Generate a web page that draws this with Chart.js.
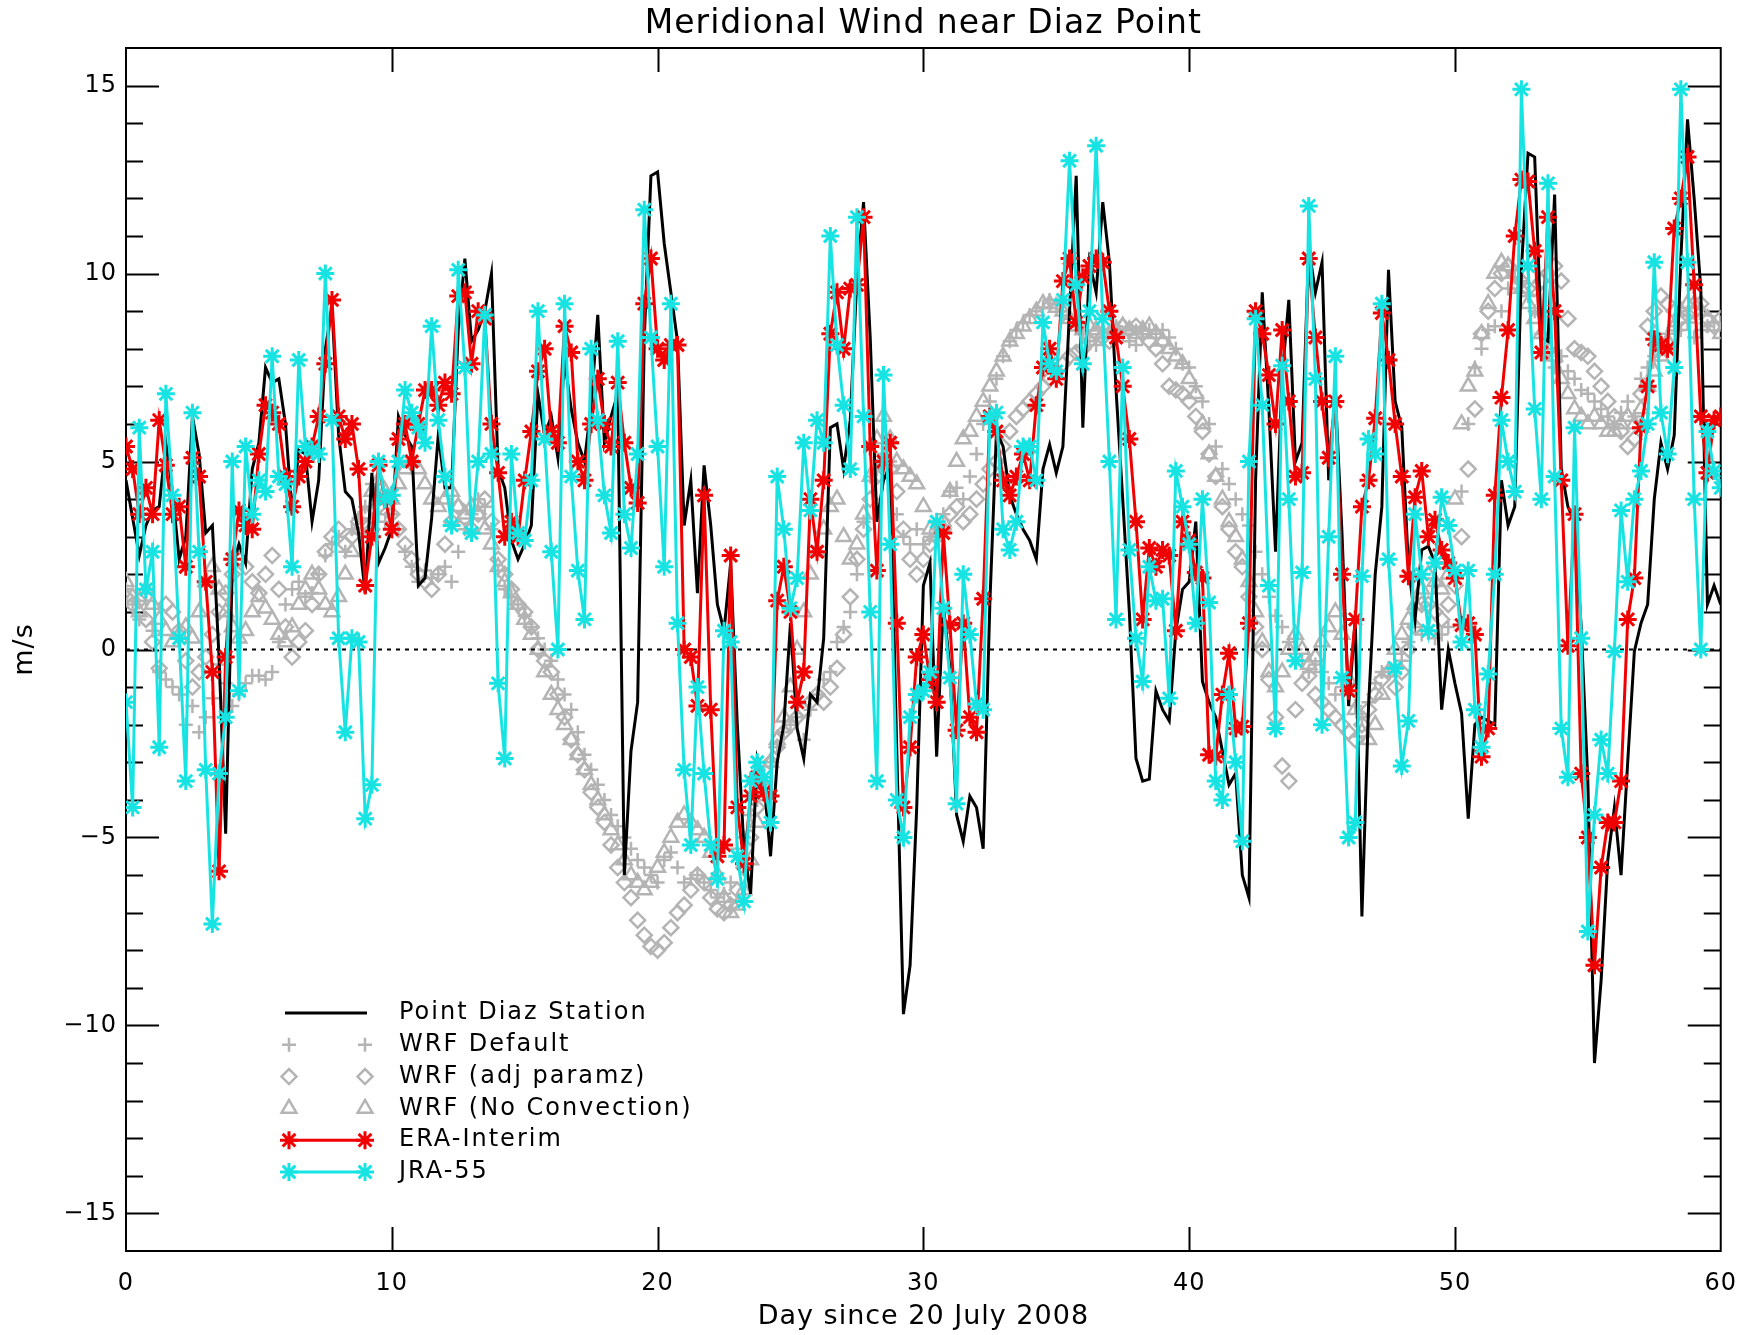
<!DOCTYPE html>
<html>
<head>
<meta charset="utf-8">
<script src="https://cdn.jsdelivr.net/npm/chart.js@4.4.1/dist/chart.umd.min.js"></script>
<style>
  html, body { margin: 0; padding: 0; background: #ffffff; }
  #wrap { width: 1754px; height: 1335px; position: relative; }
</style>
</head>
<body>
<div id="wrap"><canvas id="c" width="1754" height="1335"></canvas></div>
<script>
// ---------------- DATA ----------------
const chartTitle = 'Meridional Wind near Diaz Point';
const xAxisTitle = 'Day since 20 July 2008';
const yAxisTitle = 'm/s';
const xTickValues = [0, 10, 20, 30, 40, 50, 60];
const yTickValues = [-15, -10, -5, 0, 5, 10, 15];
const seriesNames = ['Point Diaz Station', 'WRF Default', 'WRF (adj paramz)', 'WRF (No Convection)', 'ERA-Interim', 'JRA-55'];

// 6-hourly time axis, days since 20 July 2008 (0 .. 60)
const days = Array.from({ length: 241 }, (_, i) => i / 4);

// Point Diaz Station (m/s)
const station = [
  4.5, 3.5, 2.5, 3.3,   3.7, 3.8, 5.5, 4.2,   2.4, 3.0, 6.2, 5.2,   3.1, 3.3, -0.2, -4.9,
  2.2, 2.8, 2.3, 4.8,   5.5, 7.5, 7.1, 7.2,   6.0, 3.6, 5.3, 5.2,   3.4, 4.5, 8.0, 9.1,
  5.7, 4.2, 4.0, 3.1,   1.5, 4.7, 2.3, 2.7,   3.2, 6.2, 5.7, 5.4,   1.7, 1.9, 3.5, 5.7,
  4.3, 4.3, 8.5, 10.4,  8.2, 8.5, 9.0, 10.0,  4.8, 4.3, 2.9, 2.4,   2.8, 3.3, 6.8, 5.7,
  6.2, 5.1, 7.7, 6.4,   5.5, 5.0, 6.5, 8.9,   5.5, 6.2, 6.8, -6.0,  -2.7, -1.4, 8.3, 12.6,
  12.7, 10.8, 9.5, 8.2, 3.3, 4.5, 1.5, 4.9,   3.3, 1.2, 0.5, 2.3,   -2.0, -5.3, -6.5, -2.9,
  -3.5, -5.5, -3.0, -2.0, 0.7, -2.1, -2.9, -1.2, -1.4, 0.3, 5.9, 6.0, 4.8, 6.1, 9.9, 11.9,
  8.3, 3.4, 4.5, 4.9,   -2.7, -9.7, -8.4, -4.2, 1.7, 2.3, -2.85, 1.2, -0.5, -4.4, -5.1, -3.9,
  -4.2, -5.3, 1.2, 5.8, 5.4, 4.1, 3.6, 3.2,   2.9, 2.4, 4.8, 5.45,  4.7, 5.4, 9.0, 12.6,
  5.9, 10.3, 9.5, 11.9, 10.3, 6.9, 4.0, 1.0,  -2.9, -3.5, -3.45, -1.1, -1.6, -1.9, 0.5, 1.6,
  1.8, 3.4, -0.85, -1.4, -1.8, -2.7, -3.6, -3.3, -6.0, -6.6, 4.5, 9.5, 6.4, 2.6, 7.3, 9.3,
  5.0, 5.5, 10.7, 9.5,  10.3, 4.5, 6.8, 3.1,  -1.5, 0.8, -7.1, -1.5, 2.0, 3.8, 10.1, 6.6,
  5.9, 2.2, 0.8, 2.65,  2.75, 2.3, -1.6, 0.0, -0.9, -1.7, -4.5, -2.0, -1.8, -1.9, -2.0, 4.5,
  3.3, 3.8, 10.1, 13.2, 13.1, 8.3, 8.2, 12.1, 4.8, 3.8, 3.4, 0.6,   -3.5, -11.0, -8.8, -5.6,
  -4.2, -6.0, -3.0, -0.05, 0.7, 1.2, 4.0, 5.5, 4.8, 5.7, 10.4, 14.1, 12.0, 9.6, 1.2, 1.7,
  1.2
];

// WRF Default (m/s)
const wrfDefault = [
  1.6, 1.2, 0.8, 1.3,   0.5, -0.6, -0.8, -1.0, -1.2, -2.0, -1.5, -2.2, -1.8, -1.3, -0.4, -0.9,
  -1.5, -1.2, -0.9, -0.7, -0.7, -0.8, -0.6, 0.2, 1.2, 1.6, 1.8, 1.4,  1.5, 2.0, 2.5, 2.8,
  3.0, 2.6, 3.2, 3.5,   3.8, 4.4, 3.6, 3.4,   3.6, 3.2, 2.6, 2.2,   1.8, 2.1, 1.9, 2.0,
  2.2, 1.8, 2.6, 3.2,   3.6, 4.0, 3.8, 3.2,   2.1, 1.6, 1.4, 1.2,   0.9, 0.6, 0.3, 0.0,
  -0.3, -0.8, -1.2, -1.6, -2.2, -2.8, -3.2, -3.6, -4.0, -4.4, -4.7, -5.0, -5.3, -5.6, -5.8, -6.0,
  -6.2, -5.6, -5.4, -5.8, -6.2, -6.1, -6.0, -6.2, -6.4, -6.6, -6.5, -6.2, -5.3, -5.0, -4.4, -4.0,
  -3.6, -3.0, -2.6, -2.2, -2.0, -1.8, -2.4, -1.6, -1.2, -0.8, -0.6, 0.2, 0.6, 1.0, 2.0, 3.4,
  4.6, 4.8, 5.2, 5.0,   3.6, 3.0, 2.8, 3.2,   2.8, 3.0, 3.2, 3.6,   4.2, 4.3, 4.0, 4.6,
  5.2, 6.0, 6.6, 7.2,   7.8, 8.2, 8.5, 8.7,   8.9, 9.0, 9.1, 9.3,   9.2, 9.0, 8.8, 8.6,
  8.4, 8.2, 8.1, 8.3,   8.5, 8.6, 8.4, 8.2,   8.1, 8.3, 8.5, 8.4,   8.5, 8.3, 8.0, 7.6,
  7.5, 7.0, 6.6, 6.0,   5.4, 4.8, 4.4, 4.0,   3.6, 3.3, 2.6, 2.0,   1.4, 0.9, 0.6, 0.2,
  0.0, -0.3, -0.6, -0.4, -0.6, -0.9, -1.2, -1.0, -1.2, -1.5, -1.8, -1.4, -0.9, -0.6, -0.5, -0.6,
  -0.3, 0.2, 0.6, 0.4,  0.5, 0.3, 0.4, 0.6,   2.0, 4.2, 6.0, 7.5,   8.0, 8.5, 8.6, 9.0,
  9.6, 9.9, 9.8, 9.4,   9.0, 8.4, 8.0, 7.5,   7.8, 7.4, 7.2, 6.9,   6.8, 6.6, 6.4, 6.2,
  6.0, 6.3, 6.6, 6.2,   7.2, 7.5, 7.8, 8.2,   8.4, 8.6, 8.5, 8.7,   8.3, 8.5, 8.6, 8.7,
  8.7
];

// WRF (adj paramz) (m/s)
const wrfAdj = [
  1.4, 1.2, 1.3, 0.8,   0.2, -0.5, 1.2, 1.0,  0.5, -0.3, -1.0, -0.6, -0.2, 0.4, 1.0, 1.5,
  2.0, 2.4, 2.2, 1.8,   1.5, 2.0, 2.5, 1.6,   0.6, -0.2, 0.2, 0.5,  1.2, 2.0, 2.6, 3.0,
  3.2, 2.8, 3.0, 3.4,   3.6, 3.2, 3.8, 4.0,   3.6, 3.2, 2.8, 2.4,   2.0, 1.8, 1.6, 2.0,
  2.8, 3.4, 3.8, 3.5,   3.2, 3.6, 4.0, 3.4,   2.4, 2.0, 1.6, 1.2,   1.0, 0.6, 0.0, -0.3,
  -0.6, -1.2, -1.8, -2.4, -2.8, -3.2, -3.8, -4.2, -4.6, -5.2, -5.8, -6.2, -6.6, -7.2, -7.6, -7.9,
  -8.0, -7.8, -7.4, -7.0, -6.8, -6.4, -6.0, -6.2, -6.6, -6.9, -7.0, -6.8, -6.4, -5.8, -5.0, -4.2,
  -3.6, -3.0, -2.6, -2.2, -2.0, -1.8, -1.6, -1.4, -1.2, -1.4, -1.0, -0.5, 0.4, 1.4, 2.4, 3.2,
  4.0, 4.6, 5.0, 4.8,   4.2, 3.2, 2.4, 2.0,   2.4, 2.8, 3.0, 3.2,   3.6, 3.8, 3.4, 3.6,
  4.0, 4.4, 4.8, 5.0,   5.4, 5.8, 6.2, 6.4,   6.6, 6.8, 7.0, 7.2,   7.4, 7.6, 7.8, 7.9,
  8.0, 8.2, 8.4, 8.3,   8.2, 8.4, 8.6, 8.5,   8.6, 8.4, 8.2, 8.0,   7.6, 7.0, 6.9, 6.8,
  6.6, 6.2, 5.8, 5.2,   4.6, 3.8, 3.2, 2.6,   2.2, 1.4, 0.6, 0.0,   -0.8, -1.8, -3.1, -3.5,
  -1.6, -0.9, -0.7, -1.2, -1.4, -1.6, -1.8, -2.0, -2.2, -2.4, -2.0, -1.6, -1.2, -0.8, -0.6, -1.0,
  -0.6, 0.0, 0.6, 1.2,  1.2, 1.0, 0.8, 1.2,   1.7, 3.0, 4.8, 6.4,   8.4, 9.0, 9.6, 10.0,
  10.2, 10.0, 9.8, 9.6, 9.6, 9.8, 10.0, 10.2, 9.8, 8.8, 8.0, 7.9,   7.8, 7.4, 7.0, 6.6,
  6.2, 5.8, 5.4, 5.6,   6.8, 8.6, 9.0, 9.4,   9.2, 9.0, 8.8, 8.9,   9.0, 9.2, 8.8, 8.6,
  8.8
];

// WRF (No Convection) (m/s)
const wrfNoConv = [
  1.8, 1.4, 1.0, 1.6,   1.2, 0.8, 0.5, 0.2,   0.4, 0.6, 0.3, 1.0,   1.8, 2.2, 1.6, 1.0,
  0.6, 0.3, 0.5, 1.0,   1.4, 1.1, 0.8, 0.4,   0.2, 0.6, 1.2, 1.6,   2.0, 1.6, 1.2, 1.0,
  1.4, 2.0, 2.6, 3.2,   3.6, 4.2, 4.5, 4.2,   4.0, 4.4, 4.8, 5.0,   4.8, 4.4, 4.0, 3.8,
  4.0, 4.2, 3.8, 3.6,   3.8, 3.6, 3.2, 2.8,   2.2, 1.8, 1.5, 1.2,   0.8, 0.4, 0.0, -0.6,
  -1.2, -1.6, -2.0, -2.4, -2.8, -3.2, -3.6, -4.0, -4.4, -4.8, -5.2, -5.6, -6.0, -6.2, -6.4, -6.2,
  -5.8, -5.4, -5.0, -4.6, -4.4, -4.6, -4.8, -5.0, -5.4, -6.0, -6.6, -7.0, -6.8, -6.4, -5.6, -4.6,
  -3.6, -3.0, -2.4, -1.8, -1.0, 0.0, 1.0, 2.0, 2.6, 3.2, 3.8, 4.0,   3.0, 2.4, 2.8, 3.6,
  4.6, 5.6, 6.2, 5.6,   5.0, 4.8, 4.6, 4.4,   3.8, 3.2, 3.0, 3.4,   4.2, 5.0, 5.6, 5.8,
  6.2, 6.6, 7.0, 7.4,   7.8, 8.2, 8.4, 8.6,   8.8, 9.0, 9.2, 9.2,   9.1, 9.0, 8.8, 8.6,
  8.5, 8.6, 8.5, 8.4,   8.4, 8.5, 8.6, 8.5,   8.4, 8.5, 8.6, 8.4,   8.2, 8.0, 7.8, 7.6,
  7.2, 6.8, 6.0, 5.2,   4.6, 4.0, 3.4, 3.0,   2.4, 1.8, 1.0, 0.2,   -0.6, -1.0, -0.6, 0.0,
  0.4, 0.0, -0.4, -0.2, 0.2, 0.6, 1.0, 0.4,   -0.8, -1.6, -2.2, -2.4, -2.0, -1.2, -0.6, 0.0,
  0.4, 0.8, 1.2, 1.6,   2.0, 1.8, 1.6, 2.0,   4.0, 6.0, 7.0, 7.4,   8.4, 9.2, 10.0, 10.3,
  10.2, 10.0, 9.6, 9.2, 8.8, 8.4, 8.0, 7.8,   7.2, 6.8, 6.4, 6.2,   6.0, 6.2, 6.0, 5.8,
  5.8, 6.0, 6.2, 6.0,   6.4, 7.0, 7.4, 7.8,   8.2, 8.6, 9.0, 9.2,   9.2, 9.0, 8.8, 8.6,
  8.4
];

// ERA-Interim (m/s)
const eraInterim = [
  5.4, 4.8, 3.6, 4.3,   3.6, 6.1, 4.9, 3.6,   3.8, 2.2, 5.1, 4.6,   1.8, -0.6, -5.9, -0.2,
  2.4, 3.7, 3.3, 3.2,   5.2, 6.5, 6.3, 6.0,   4.6, 3.8, 4.6, 5.0,   5.4, 6.2, 7.6, 9.3,
  6.2, 5.6, 6.0, 4.8,   1.7, 3.0, 4.9, 4.0,   3.2, 5.6, 6.0, 5.0,   6.0, 6.9, 6.9, 6.5,
  7.1, 6.8, 9.4, 9.5,   7.6, 9.0, 8.8, 6.0,   4.7, 3.0, 3.4, 3.0,   4.5, 5.8, 7.4, 8.0,
  5.8, 5.5, 8.6, 7.9,   5.0, 4.5, 6.0, 7.2,   6.0, 5.4, 7.1, 5.5,   4.3, 3.9, 9.2, 10.4,
  8.0, 7.7, 8.1, 8.1,   0.0, -0.2, -1.5, 4.1, -1.6, -5.5, -5.2, 2.5, -4.2, -5.7, -3.9, -3.4,
  -3.8, -3.9, 1.3, 2.2, 1.0, -1.4, -0.6, 4.0, 2.6, 4.5, 8.4, 9.5,   8.0, 9.6, 9.7, 11.5,
  5.4, 2.1, 5.0, 5.5,   0.7, -4.2, -2.6, -0.2, 0.4, -0.8, -1.4, 3.1, 0.65, -2.15, 0.7, -1.8,
  -2.2, 1.35, 6.2, 5.8, 4.5, 4.1, 4.6, 5.2,   4.5, 6.5, 7.5, 8.0,   7.2, 9.8, 10.4, 8.7,
  9.9, 10.2, 10.4, 10.3, 9.0, 8.3, 7.0, 5.6,  3.4, 0.8, 2.7, 2.2,   2.65, 2.5, 0.5, 3.4,
  2.9, 2.05, 1.9, -2.8, -2.85, -1.2, -0.1, -2.1, -2.05, 0.7, 9.0, 8.4, 7.3, 6.0, 8.5, 6.6,
  4.6, 4.7, 10.4, 8.3,  6.6, 5.1, 6.6, 2.0,   -1.1, 0.8, 3.8, 4.5,  6.15, 8.95, 7.7, 6.0,
  4.6, 1.95, 4.05, 4.75, 3.0, 3.45, 2.65, 2.3, 1.9, 0.65, 0.7, 0.4,  -2.85, -2.1, 4.1, 6.7,
  8.5, 11.0, 12.5, 12.45, 10.6, 7.9, 11.5, 9.0, 4.5, 0.1, 3.6, -3.3, -5.0, -8.4, -5.8, -4.6,
  -4.6, -3.5, 0.8, 1.9, 5.9, 7.0, 8.25, 8.1,  8.0, 11.2, 12.0, 13.1, 9.7, 6.2, 4.7, 6.1,
  6.2
];

// JRA-55 (m/s)
const jra55 = [
  -1.4, -4.2, 5.9, 1.6, 2.6, -2.6, 6.8, 4.1,  0.3, -3.5, 6.3, 2.6,   -3.2, -7.3, -3.3, -1.8,
  5.0, -1.1, 5.4, 3.6,  4.5, 4.2, 7.8, 4.6,   4.4, 2.2, 7.7, 5.4,   5.3, 5.2, 10.0, 6.1,
  0.3, -2.2, 0.3, 0.2,  -4.5, -3.6, 5.0, 4.0, 4.1, 5.0, 6.9, 6.3,   5.9, 5.5, 8.6, 6.1,
  4.6, 3.3, 10.1, 7.5,  3.1, 5.0, 8.9, 5.2,   -0.9, -2.9, 5.2, 3.1, 2.9, 4.5, 9.0, 5.6,
  2.6, 0.0, 9.2, 4.6,   2.1, 0.8, 8.0, 6.1,   4.1, 3.1, 8.2, 3.6,   2.7, 5.2, 11.7, 8.3,
  5.4, 2.2, 9.2, 0.7,   -3.2, -5.2, -1.0, -3.3, -5.2, -6.1, 0.5, 0.2, -5.5, -6.7, -3.5, -3.0,
  -3.4, -4.6, 4.6, 3.2, 1.1, 1.9, 5.5, 3.7,   6.1, 5.5, 11.0, 8.1,  6.5, 4.8, 11.5, 6.2,
  1.0, -3.5, 7.3, 2.8,  -4.0, -5.0, -1.8, -1.2, -1.1, -0.6, 3.4, 1.1, -0.75, -4.1, 2.0, 0.4,
  -1.45, -1.6, 6.15, 6.3, 3.2, 2.65, 3.4, 5.4, 5.4, 4.5, 8.7, 7.6,  7.4, 9.3, 13.0, 9.7,
  7.6, 9.0, 13.4, 8.8,  5.0, 0.8, 7.5, 2.65,  0.3, -0.85, 2.2, 1.3, 1.35, -1.3, 4.75, 3.8,
  2.8, 0.7, 4.0, 1.25,  -3.5, -4.0, -1.2, -3.0, -5.1, 5.0, 8.8, 6.5, 1.7, -2.1, 7.55, 4.0,
  -0.3, 2.05, 11.8, 7.2, -2.0, 3.0, 7.8, -0.75, -5.0, -4.6, 1.95, 5.6, 5.2, 9.2, 2.4, -0.5,
  -3.1, -1.9, 3.6, 2.0, 0.5, 2.3, 4.05, 3.3,  2.1, 0.2, 2.1, -1.6,   -2.6, -0.65, 2.0, 6.1,
  5.0, 4.2, 14.9, 10.2, 6.4, 4.0, 12.4, 4.6,  -2.1, -3.4, 5.9, 0.3,  -7.5, -4.4, -2.4, -3.3,
  -0.05, 3.7, 1.8, 4.0, 4.75, 6.0, 10.3, 6.3, 5.2, 7.5, 14.9, 10.3,  4.0, 0.0, 5.8, 4.75,
  4.3
];

// ---------------- STYLE ----------------
const FONT = 'DejaVu Sans';
const RED = '#f00000';
const CYAN = '#18e3e3';
const GREY = '#b4b4b4';

const pts = arr => arr.map((v, i) => ({ x: days[i], y: v }));
const fmt = v => (v < 0 ? '\u2212' + Math.abs(v) : String(v));

const frame = {
  id: 'frame',
  beforeDraw(chart) {
    const ctx = chart.ctx;
    ctx.save();
    ctx.fillStyle = '#ffffff';
    ctx.fillRect(0, 0, chart.width, chart.height);
    ctx.restore();
    ctx.letterSpacing = '1px';
  },
  beforeDatasetsDraw(chart) {
    const { ctx, chartArea: a, scales: { x, y } } = chart;
    ctx.save();
    ctx.strokeStyle = '#000';
    ctx.lineWidth = 2;
    ctx.strokeRect(a.left, a.top, a.right - a.left, a.bottom - a.top);
    ctx.beginPath();
    for (let v = Math.ceil(y.min) + 1; v < y.max; v++) {
      const py = Math.round(y.getPixelForValue(v)) + 0.5;
      const len = (v % 5 === 0) ? 33 : 17;
      ctx.moveTo(a.left, py); ctx.lineTo(a.left + len, py);
      ctx.moveTo(a.right, py); ctx.lineTo(a.right - len, py);
    }
    xTickValues.forEach(v => {
      if (v <= x.min || v >= x.max) return;
      const px = Math.round(x.getPixelForValue(v)) + 0.5;
      ctx.moveTo(px, a.bottom); ctx.lineTo(px, a.bottom - 24);
      ctx.moveTo(px, a.top); ctx.lineTo(px, a.top + 24);
    });
    ctx.stroke();
    ctx.restore();
  },
  afterDraw(chart) {
    const ctx = chart.ctx;
    const x0 = 289, x1 = 365, tx = 399, y0 = 1013, dy = 31.8;
    const styles = [
      { line: '#000', lw: 3 },
      { marker: 'cross', color: GREY, r: 7 },
      { marker: 'rectRot', color: GREY, r: 7.5 },
      { marker: 'triangle', color: GREY, r: 8.5 },
      { line: RED, lw: 3, marker: 'star', color: RED, r: 9 },
      { line: CYAN, lw: 3, marker: 'star', color: CYAN, r: 9 }
    ];
    ctx.save();
    seriesNames.forEach((name, i) => {
      const s = styles[i];
      const yy = y0 + i * dy;
      if (s.line) {
        ctx.strokeStyle = s.line; ctx.lineWidth = s.lw;
        ctx.beginPath();
        ctx.moveTo(s.marker ? x0 : x0 - 4, yy);
        ctx.lineTo(s.marker ? x1 : x1 + 2, yy);
        ctx.stroke();
      }
      if (s.marker) {
        ctx.strokeStyle = s.color; ctx.fillStyle = 'rgba(0,0,0,0)';
        const bw = s.marker === 'star' ? 3 : 2.5;
        ctx.lineWidth = bw;
        [x0, x1].forEach(px => Chart.helpers.drawPoint(ctx, { pointStyle: s.marker, radius: s.r, rotation: 0, borderWidth: bw }, px, yy));
      }
      ctx.fillStyle = '#000';
      ctx.font = '24px "' + FONT + '"';
      ctx.letterSpacing = '2px';
      ctx.textBaseline = 'middle';
      ctx.textAlign = 'left';
      ctx.fillText(name, tx, yy);
    });
    ctx.restore();
  }
};

const markerSet = (style, r) => ({
  showLine: false,
  pointStyle: style,
  pointRadius: r,
  pointBorderColor: GREY,
  pointBackgroundColor: 'rgba(0,0,0,0)',
  pointBorderWidth: 2.5,
  borderColor: GREY,
  backgroundColor: 'rgba(0,0,0,0)'
});

new Chart(document.getElementById('c'), {
  type: 'line',
  data: {
    datasets: [
      { label: seriesNames[5], data: pts(jra55), order: 0, borderColor: CYAN, borderWidth: 3,
        pointStyle: 'star', pointRadius: 9, pointBorderWidth: 3, pointBorderColor: CYAN, pointBackgroundColor: CYAN, tension: 0 },
      { label: seriesNames[4], data: pts(eraInterim), order: 1, borderColor: RED, borderWidth: 3,
        pointStyle: 'star', pointRadius: 9, pointBorderWidth: 3, pointBorderColor: RED, pointBackgroundColor: RED, tension: 0 },
      { label: seriesNames[0], data: pts(station), order: 2, borderColor: '#000', borderWidth: 3, pointRadius: 0, tension: 0 },
      { label: 'zero', data: [{ x: xTickValues[0], y: 0 }, { x: xTickValues[xTickValues.length - 1], y: 0 }], order: 3,
        borderColor: '#000', borderWidth: 2, borderDash: [4, 5], pointRadius: 0 },
      Object.assign({ label: seriesNames[3], data: pts(wrfNoConv), order: 4 }, markerSet('triangle', 8.5)),
      Object.assign({ label: seriesNames[2], data: pts(wrfAdj), order: 5 }, markerSet('rectRot', 7.5)),
      Object.assign({ label: seriesNames[1], data: pts(wrfDefault), order: 6 }, markerSet('cross', 7))
    ]
  },
  options: {
    responsive: false,
    animation: false,
    devicePixelRatio: 1,
    layout: { padding: { left: 0, right: 30, top: 0, bottom: 0 } },
    plugins: {
      legend: { display: false },
      tooltip: { enabled: false },
      title: {
        display: true, text: chartTitle, color: '#000', fullSize: false,
        font: { family: FONT, size: 33, weight: 'normal' },
        padding: { top: 5, bottom: 3.4 }
      }
    },
    scales: {
      x: {
        type: 'linear', min: 0, max: 60,
        afterBuildTicks: s => { s.ticks = xTickValues.map(v => ({ value: v })); },
        afterFit: s => { s.height = 84; },
        grid: { display: false, drawTicks: false },
        border: { display: false },
        ticks: { color: '#000', font: { family: FONT, size: 24 }, padding: 18, maxRotation: 0, callback: v => fmt(v) },
        title: { display: true, text: xAxisTitle, color: '#000', font: { family: FONT, size: 27 }, padding: { top: 0, bottom: 2 } }
      },
      y: {
        type: 'linear', min: -16, max: 16,
        afterBuildTicks: s => { s.ticks = yTickValues.map(v => ({ value: v })); },
        afterFit: s => { s.width = 126; },
        grid: { display: false, drawTicks: false },
        border: { display: false },
        ticks: { color: '#000', font: { family: FONT, size: 24 }, padding: 9, callback: v => fmt(v) },
        title: { display: true, text: yAxisTitle, color: '#000', font: { family: FONT, size: 27 }, padding: { top: 9, bottom: 0 } }
      }
    }
  },
  plugins: [frame]
});
</script>
</body>
</html>
